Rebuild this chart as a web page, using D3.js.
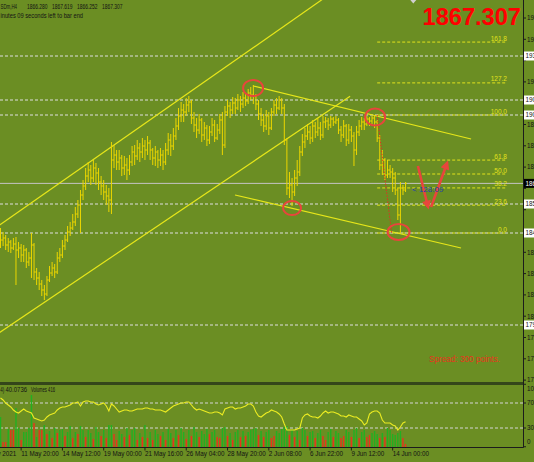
<!DOCTYPE html>
<html><head><meta charset="utf-8">
<script src="https://cdn.jsdelivr.net/npm/d3@7"></script>
<style>html,body{margin:0;padding:0;background:#6b8e23;overflow:hidden}svg{display:block}</style>
</head><body><svg id="c" width="534" height="462"></svg>
<script>
// ---------- DATA (XAUUSDm, H4) ----------
const closes = [1839,1840,1836.5,1838,1835,1837,1834,1835,1831.5,1834,
1828,1830,1836.5,1823,1820,1817,1814,1812,1819,1822.5,
1825,1823,1830,1831.5,1836,1839,1843,1845,1848,1852,
1856.5,1861.5,1866,1871,1874,1870,1875,1872.5,1868,1866,
1863,1861,1859,1879,1881.5,1878,1880,1875,1876.5,1874,
1878,1883,1881,1885,1883,1886,1884,1887.5,1884,1880,
1883,1879,1881.5,1878,1884,1889,1886,1891,1896,1901,
1904,1903,1906.5,1908,1900,1896.5,1894,1899,1891.5,1895,
1889,1893,1896.5,1890,1894,1899,1886.5,1903,1906,1904,
1907.5,1905,1909,1907,1910,1908.5,1912.5,1911.5,1911,1907,
1902,1899,1896,1901,1895,1903,1906.5,1905,1909,1905,
1889,1865,1866.5,1863,1870,1873,1883,1888,1891,1893,
1890,1896,1893,1895,1891.5,1898,1898.5,1896.5,1899.5,1898,
1899,1894,1891.5,1896,1889,1894,1891,1884,1893,1896,
1898,1897,1899.5,1898.5,1900,1898,1890,1876.5,1879,1871.5,
1874,1873,1870,1864,1851.5,1865,1864,1867.3];
const highs = [1845,1843,1841.5,1840,1839,1840,1840.5,1838,1837,1836.5,
1835,1833,1842.5,1837.5,1825,1823,1819,1816.5,1821,1826,
1828,1827,1833,1835,1839,1841.5,1846,1848,1852,1855.5,
1859,1864,1869,1875,1878,1876.5,1879,1877.5,1875,1871,
1869,1866.5,1865,1888,1886.5,1884,1884,1881.5,1881,1880,
1881.5,1886,1886.5,1889,1887.5,1890,1889,1891,1889,1885,
1886,1884,1885,1884,1887.5,1892.5,1892,1895,1900,1905,
1908,1907,1910,1911,1909,1903,1900,1902,1900,1898,
1896.5,1896,1900,1899,1897,1902,1903,1906,1909,1908,
1910.5,1910,1912,1911,1913,1912,1914.5,1915.5,1916.5,1912,
1909,1905,1902,1904,1903,1905,1909,1910,1911,1910,
1907,1890,1873,1870,1874,1879,1886,1892,1895,1897,
1896,1899,1898,1900,1898,1901,1900.5,1900,1901,1900.5,
1901,1900,1896,1899,1897,1897,1896,1893,1896,1899,
1900.5,1900,1901,1900.5,1901,1901.5,1899,1891.5,1884,1880,
1879,1876.5,1875,1873,1865,1868,1866.5,1868];
const lows = [1835,1836,1834,1833,1832.5,1834,1816.5,1830,1828,1828,
1825,1826,1820,1819,1816.5,1814,1811,1809,1811,1818,
1821,1820,1822,1828,1830,1834,1838,1841,1844,1846,
1850,1842.5,1859,1864,1868,1866.5,1868,1866.5,1864,1861.5,
1859,1856.5,1853,1852,1875,1874,1874,1871,1871.5,1869,
1871.5,1876,1876.5,1879,1878,1880,1879,1881.5,1879,1876.5,
1876,1875,1876,1874,1876.5,1881.5,1881,1884,1889,1894,
1898,1898,1901,1903,1897,1893,1890,1892,1888,1889,
1886,1887,1891,1888,1889,1892,1881.5,1885,1901,1900,
1902,1902,1904,1903,1905,1906,1907,1909,1907,1904,
1899,1896,1893,1894,1891.5,1894,1901,1902,1904,1902,
1886.5,1861.5,1860,1856,1861,1866,1871,1881,1885,1889,
1887,1888,1890,1891,1889,1890,1895,1894,1895,1896,
1897,1892,1888,1890,1886,1887,1888,1876,1881.5,1891,
1894,1894,1896,1896,1897,1895,1888,1874,1871.5,1869,
1870,1870,1863,1861.5,1849,1842.5,1861.5,1863];
const firstOpen = 1841;
const rsi = [78.0,74.8,70.0,66.8,63.6,58.8,55.6,54.0,57.2,60.4,
57.2,55.6,54.0,46.0,44.4,42.8,41.2,42.8,47.6,50.8,
52.4,54.0,58.8,62.0,63.6,63.6,65.2,66.8,70.0,70.0,
71.6,65.2,71.6,73.2,73.2,71.6,71.6,68.4,66.8,68.4,
70.0,65.2,57.2,68.4,65.2,60.4,55.6,57.2,58.8,58.8,
57.2,57.2,58.8,60.4,60.4,60.4,62.0,62.0,60.4,60.4,
58.8,58.8,58.8,57.2,55.6,58.8,62.0,65.2,66.8,68.4,
70.0,70.0,71.6,71.6,66.8,62.0,58.8,60.4,58.8,57.2,
55.6,54.0,54.0,55.6,55.6,54.0,50.8,60.4,62.0,63.6,
63.6,60.4,62.0,62.0,63.6,65.2,68.4,68.4,65.2,55.6,
49.2,47.6,50.8,54.0,55.6,58.8,57.2,55.6,52.4,47.6,
36.4,26.8,26.8,26.8,26.8,28.4,30.0,46.0,50.8,52.4,
49.2,47.6,47.6,46.0,49.2,54.0,57.2,54.0,55.6,55.6,
54.0,52.4,49.2,49.2,47.6,50.8,49.2,47.6,47.6,44.4,
41.2,34.8,38.0,52.4,55.6,57.2,57.2,54.0,42.8,38.0,
38.0,38.0,34.8,33.2,26.8,31.6,38.0,40.07];
const volumes = [4200,700,700,2520,2380,2380,5460,2660,980,2100,
2100,2660,7280,3360,1400,2380,2380,3080,1820,2240,
1260,2660,1960,2380,2520,1540,2100,2940,1260,2100,
1820,2940,2380,1400,2380,1960,1120,2800,2100,1540,
2380,1260,3080,3080,1820,980,2240,1820,1400,2660,
1680,2380,2660,980,1960,1400,3080,1260,2100,980,
2380,1820,1540,2100,980,2520,1960,1260,2380,1680,
2660,2100,1120,2380,1540,2800,2100,1400,2240,1820,
2520,1820,2100,2380,1400,1260,2660,2800,1540,1960,
980,2100,2380,1400,2240,1540,2100,2380,2520,2660,
1680,2240,1400,2100,2380,1260,1540,2240,1960,2520,
2800,2940,1680,2380,1400,2240,980,2660,2380,1540,
2100,2240,1260,1960,2380,1540,980,2100,2520,1400,
2240,1960,1260,1540,2380,2100,1400,2380,2660,1260,
2100,2380,1400,1680,1960,2240,1820,1260,1960,1400,
2660,2380,1820,1680,1960,2240,1260,416];
const volUp = [1,0,0,1,0,0,1,1,0,1, 1,1,1,0,1,0,0,1,0,1, 0,1,0,1,1,0,1,1,0,1,
0,1,1,0,1,1,0,1,1,0, 1,0,1,1,0,0,1,1,0,1, 0,1,1,0,1,0,1,0,1,0,
1,1,0,1,0,1,1,0,1,0, 1,1,0,1,0,1,1,0,1,1, 1,0,1,1,0,0,1,1,0,1,
0,1,1,0,1,0,1,1,1,1, 0,1,0,1,1,0,0,1,1,1, 1,1,0,1,0,1,0,1,1,0,
1,1,0,1,1,0,0,1,1,0, 1,1,0,0,1,1,0,1,1,0, 1,1,0,0,1,1,1,0,1,0, 1,1,1,1,1,1,0,0];
const timeLabels = ["10 May 2021","11 May 20:00","14 May 12:00","19 May 00:00","21 May 16:00","26 May 04:00","28 May 20:00","2 Jun 08:00","6 Jun 22:00","9 Jun 12:00","14 Jun 00:00"];
const timeLabelIdx = [-8,8,24,40,56,72,88,104,120,136,152];
const priceTicks = [1950.00,1939.35,1928.70,1918.05,1907.40,1896.75,1886.10,1875.45,1864.80,1854.15,1843.50,1832.85,1822.20,1811.55,1800.90,1790.25,1779.60,1768.95];
const hLines = [1931.0,1909.0,1901.5,1857.0,1842.5,1796.5];
const fibRatios = [0,23.6,38.2,50,61.8,100,127.2,161.8];
const fibHigh = 1901.5, fibLow = 1842.5;
const lastPrice = 1867.307;
const ohlcHeader = ["1866.280","1867.619","1866.252","1867.307"];
const symbolText = "SDm,H4";                       // visible part of "XAUUSDm,H4"
const timerText = "inutes 09 seconds left to bar end"; // visible part of the timer comment
const rsiValue = "40.0736", lastVolume = 416;
const rsiLevels = [0,30,70,100];
const channelUpper = [{i:18,p:1863},{i:77.3,p:1916.5}];
const channelLower = [{i:12.6,p:1804},{i:116.1,p:1894}];
const resistLine = [{i:97.9,p:1916},{i:182.4,p:1889.5}];
const supportLine = [{i:90.9,p:1861.5},{i:178.5,p:1835}];
const circles = [{i:97.9,p:1915,rx:10,ry:8},{i:113,p:1855,rx:9,ry:7},{i:145.2,p:1900.5,rx:10,ry:8.5},{i:154.3,p:1843,rx:11,ry:8}];
const arrows = [[{i:161.8,p:1876},{i:165.7,p:1855.5}],[{i:166.9,p:1855.5},{i:173.1,p:1877.5}]];

// ---------- CHART ----------
const svg = d3.select('#c');
const plotR = 523, mainB = 382, indT = 384, indB = 447;
const FONT = "'Liberation Sans', Arial, sans-serif";
const x = d3.scaleLinear().domain([0,152]).range([0.5,392.66]);
const y = d3.scaleLinear().domain([1959,1767]).range([0,384]);
const yR = d3.scaleLinear().domain([0,100]).range([446.75,384.25]);
const yV = d3.scaleLinear().domain([0,8820]).range([447,384]);

const defs = svg.append('defs');
defs.append('clipPath').attr('id','cm').append('rect').attr('x',0).attr('y',0).attr('width',plotR).attr('height',mainB);
defs.append('clipPath').attr('id','ci').append('rect').attr('x',0).attr('y',indT).attr('width',plotR).attr('height',indB-indT);
defs.append('marker').attr('id','ah').attr('viewBox','0 0 10 10').attr('refX',7).attr('refY',5)
  .attr('markerWidth',10).attr('markerHeight',9).attr('markerUnits','userSpaceOnUse').attr('orient','auto')
  .append('path').attr('d','M0,0L10,5L0,10z').attr('fill','#e8453c');

svg.append('rect').attr('width',534).attr('height',462).attr('fill','#6b8e23');

const g = svg.append('g').attr('clip-path','url(#cm)');

// horizontal white dashed lines
g.selectAll('.hl').data(hLines).join('line')
  .attr('x1',0).attr('x2',plotR).attr('y1',d=>y(d)).attr('y2',d=>y(d))
  .attr('stroke','#dedede').attr('stroke-width',1).attr('stroke-dasharray','3,2');

// current price line
g.append('line').attr('x1',0).attr('x2',plotR).attr('y1',y(lastPrice)).attr('y2',y(lastPrice))
  .attr('stroke','#c4c4c4').attr('stroke-width',1);

// fibonacci levels
const fibStart = 146, fibEnd = 196.3;
const fibs = fibRatios.map(r=>({r, p: fibLow + r/100*(fibHigh-fibLow)}));
g.selectAll('.fib').data(fibs).join('line')
  .attr('x1',x(fibStart)).attr('x2',x(fibEnd)).attr('y1',d=>y(d.p)).attr('y2',d=>y(d.p))
  .attr('stroke','#e2e21c').attr('stroke-width',1).attr('stroke-dasharray','3,2');
g.selectAll('.fibt').data(fibs).join('text')
  .attr('x',x(fibEnd)).attr('y',d=>y(d.p)-1.5).attr('text-anchor','end')
  .attr('font-family',FONT).attr('font-size',6.5).attr('fill','#e2e21c')
  .text(d=>d.r.toFixed(1));

// trend / channel lines
function lineThrough(a,b,i0,i1){const s=(b.p-a.p)/(b.i-a.i);return [[i0,a.p+s*(i0-a.i)],[i1,a.p+s*(i1-a.i)]];}
const tl = [lineThrough(channelUpper[0],channelUpper[1],-3,132),
            lineThrough(channelLower[0],channelLower[1],-3,135.5),
            lineThrough(resistLine[0],resistLine[1],resistLine[0].i,resistLine[1].i),
            lineThrough(supportLine[0],supportLine[1],supportLine[0].i,supportLine[1].i)];
const lineGen = d3.line().x(d=>x(d[0])).y(d=>y(d[1]));
g.selectAll('.tl').data(tl).join('path').attr('d',lineGen)
  .attr('fill','none').attr('stroke','#e6e61a').attr('stroke-width',1.2);

// OHLC bars
const bars = closes.map((c,i)=>({i,o:i?closes[i-1]:firstOpen,h:highs[i],l:lows[i],c}));
g.selectAll('.bar').data(bars).join('path')
  .attr('d',d=>{const X=x(d.i);return `M${X},${y(d.h)}V${y(d.l)}M${X-1.3},${y(d.o)}H${X}M${X},${y(d.c)}H${X+1.3}`;})
  .attr('fill','none').attr('stroke','#ecd600').attr('stroke-width',1);

// fib diagonal (red dotted)
g.append('line').attr('x1',x(146)).attr('y1',y(fibHigh)).attr('x2',x(151.6)).attr('y2',y(fibLow))
  .attr('stroke','#e03020').attr('stroke-width',1).attr('stroke-dasharray','1.5,1.5');

// red circles
g.selectAll('.circ').data(circles).join('ellipse')
  .attr('cx',d=>x(d.i)).attr('cy',d=>y(d.p)).attr('rx',d=>d.rx).attr('ry',d=>d.ry)
  .attr('fill','none').attr('stroke','#e8453c').attr('stroke-width',2);

// red arrows
g.selectAll('.arr').data(arrows).join('line')
  .attr('x1',d=>x(d[0].i)).attr('y1',d=>y(d[0].p)).attr('x2',d=>x(d[1].i)).attr('y2',d=>y(d[1].p))
  .attr('stroke','#e8453c').attr('stroke-width',2.6).attr('marker-end','url(#ah)');

// countdown label
g.append('text').attr('x',x(159.5)).attr('y',y(lastPrice)+9)
  .attr('font-family',FONT).attr('font-size',8).attr('fill','#2340b0').text('< 128:09');

// shift marker
const sx = x(160);
svg.append('path').attr('d',`M${sx-3},0L${sx+3},0L${sx},3.5z`).attr('fill','#d0d0d0');

// big price
svg.append('text').attr('x',521).attr('y',25).attr('text-anchor','end')
  .attr('font-family',FONT).attr('font-weight','bold').attr('font-size',23.6).attr('fill','#ff0000')
  .text(lastPrice.toFixed(3));

// spread
svg.append('text').attr('x',429).attr('y',361.5)
  .attr('font-family',FONT).attr('font-size',8.2).attr('fill','#e8341c').text('Spread: 300 points.');

// header text
const hdr = svg.append('g').attr('font-family',FONT).attr('font-size',6.5).attr('fill','#141414');
hdr.append('text').attr('x',0.5).attr('y',8.8).attr('textLength',16.5).attr('lengthAdjust','spacingAndGlyphs').text(symbolText);
const hx = [27,52,77,102];
ohlcHeader.forEach((t,k)=>hdr.append('text').attr('x',hx[k]).attr('y',8.8).attr('textLength',20.5).attr('lengthAdjust','spacingAndGlyphs').text(t));
hdr.append('text').attr('x',0.5).attr('y',17.6).attr('textLength',82.5).attr('lengthAdjust','spacingAndGlyphs').text(timerText);

// ---------- separator ----------
svg.append('rect').attr('x',0).attr('y',382).attr('width',plotR).attr('height',3).attr('fill','#34461a');

// ---------- indicator window ----------
const gi = svg.append('g').attr('clip-path','url(#ci)');
gi.selectAll('.lv').data([30,70]).join('line')
  .attr('x1',0).attr('x2',plotR).attr('y1',d=>yR(d)).attr('y2',d=>yR(d))
  .attr('stroke','#d4d4d4').attr('stroke-width',1).attr('stroke-dasharray','3,2');
gi.selectAll('.vol').data(volumes).join('rect')
  .attr('x',(d,i)=>x(i)-0.7).attr('width',1.4)
  .attr('y',d=>yV(d)).attr('height',d=>yV(0)-yV(d))
  .attr('fill',(d,i)=>volUp[i]?'#22b022':'#e8341c');
gi.append('path').datum(rsi).attr('d',d3.line().x((d,i)=>x(i)).y(d=>yR(d)))
  .attr('fill','none').attr('stroke','#ecec22').attr('stroke-width',1.1);
const ih = svg.append('g').attr('font-family',FONT).attr('font-size',6.5).attr('fill','#141414');
ih.append('text').attr('x',0.3).attr('y',391.5).attr('textLength',4).attr('lengthAdjust','spacingAndGlyphs').text('4)');
ih.append('text').attr('x',5.5).attr('y',391.5).attr('textLength',21.5).attr('lengthAdjust','spacingAndGlyphs').text(rsiValue);
ih.append('text').attr('x',31).attr('y',391.5).attr('textLength',24).attr('lengthAdjust','spacingAndGlyphs').text('Volumes ' + lastVolume);

// ---------- axes ----------
svg.append('line').attr('x1',plotR+0.5).attr('x2',plotR+0.5).attr('y1',0).attr('y2',indB+0.5).attr('stroke','#1c1c1c').attr('stroke-width',1);
svg.append('line').attr('x1',0).attr('x2',plotR+0.5).attr('y1',indB+0.5).attr('y2',indB+0.5).attr('stroke','#1c1c1c').attr('stroke-width',1);

const ax = svg.append('g').attr('font-family',FONT).attr('font-size',6.3).attr('fill','#141414');
const boxYs = hLines.map(p=>y(p)).concat([y(lastPrice)]);
priceTicks.forEach(p=>{
  const yy = y(p);
  ax.append('line').attr('x1',plotR).attr('x2',plotR+3).attr('y1',yy).attr('y2',yy).attr('stroke','#1c1c1c');
  if (boxYs.some(b=>Math.abs(b-yy)<8)) return;   // label hidden behind a line label box
  ax.append('text').attr('x',527).attr('y',yy+2.3).text(p.toFixed(2));
});
hLines.forEach(p=>{
  const yy = y(p);
  ax.append('rect').attr('x',524).attr('y',yy-4.5).attr('width',14).attr('height',9).attr('fill','#ffffff');
  ax.append('text').attr('x',525.5).attr('y',yy+2.3).attr('fill','#141414').text(p.toFixed(2));
});
ax.append('rect').attr('x',524).attr('y',y(lastPrice)-4.5).attr('width',14).attr('height',9).attr('fill','#000');
ax.append('text').attr('x',525.5).attr('y',y(lastPrice)+2.3).attr('fill','#fff').text(lastPrice.toFixed(2));

rsiLevels.forEach(v=>{
  const yy = Math.min(Math.max(yR(v),388.5),442);
  ax.append('line').attr('x1',plotR).attr('x2',plotR+3).attr('y1',yR(v)).attr('y2',yR(v)).attr('stroke','#1c1c1c');
  ax.append('text').attr('x',527).attr('y',yy+2.3).text(String(v));
});

timeLabelIdx.forEach((k,j)=>{
  const xx = x(k);
  ax.append('line').attr('x1',xx).attr('x2',xx).attr('y1',indB).attr('y2',indB+3.5).attr('stroke','#1c1c1c');
  ax.append('text').attr('x',xx).attr('y',455.5).text(timeLabels[j]);
});
</script></body></html>
